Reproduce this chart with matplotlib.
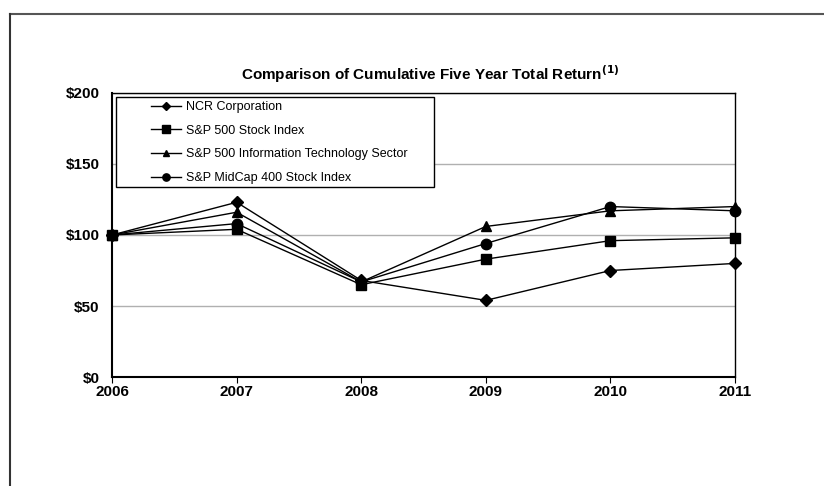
import matplotlib.pyplot as plt
from matplotlib.patches import Rectangle

plt.rcParams['font.family'] = ['Liberation Sans', 'DejaVu Sans']

# Data (indexed to $100 in 2006)
years = [2006, 2007, 2008, 2009, 2010, 2011]
ncr = [100, 123, 68, 54, 75, 80]
sp500 = [100, 104, 65, 83, 96, 98]
sp500_it = [100, 116, 67, 106, 117, 120]
midcap400 = [100, 108, 67, 94, 120, 117]

series = [
    ("NCR Corporation", ncr, 'D', 6),
    ("S&P 500 Stock Index", sp500, 's', 7.5),
    ("S&P 500 Information Technology Sector", sp500_it, '^', 7),
    ("S&P MidCap 400 Stock Index", midcap400, 'o', 7.5),
]
y_ticks = [0, 50, 100, 150, 200]
y_labels = ["$0", "$50", "$100", "$150", "$200"]

fig = plt.figure(figsize=(8.24, 4.86), dpi=100)
ax = fig.add_axes([0.136, 0.224, 0.756, 0.585])

for name, vals, mk, ms in series:
    ax.plot(years, vals, color='black', linewidth=1, marker=mk, markersize=ms,
            label=name, clip_on=False, zorder=3)

ax.set_xlim(2006, 2011)
ax.set_ylim(0, 200)
ax.set_xticks(years)
ax.set_xticklabels([str(y) for y in years], fontsize=11, fontweight='bold')
ax.set_yticks(y_ticks)
ax.set_yticklabels(y_labels, fontsize=11, fontweight='bold')
ax.tick_params(axis='y', length=0, pad=9)
ax.tick_params(axis='x', length=4, direction='out', pad=2)
ax.grid(axis='y', color='#b0b0b0', linewidth=1)
for s in ax.spines.values():
    s.set_color('black')
    s.set_linewidth(1)
ax.spines['left'].set_linewidth(1.5)
ax.spines['bottom'].set_linewidth(1.5)

# legend frame drawn separately, entries placed inside it
ax.add_patch(Rectangle((0.0064, 0.669), 0.511, 0.317, transform=ax.transAxes,
                       facecolor='white', edgecolor='black', linewidth=1, zorder=4))
leg = ax.legend(loc='upper left', bbox_to_anchor=(0.058, 0.98), fontsize=9,
                frameon=False, handlelength=2.4, handletextpad=0.4,
                labelspacing=0.93, borderpad=0.2, borderaxespad=0, markerscale=0.7)
leg.set_zorder(5)

fig.text(0.522, 0.847, "Comparison of Cumulative Five Year Total Return$^{\\bf{(1)}}$",
         ha='center', va='center', fontsize=11, fontweight='bold')

# outer frame lines (top and left)
fig.add_artist(plt.Line2D([0.012, 1.0], [0.971, 0.971], color='#555555', linewidth=1.5,
                          transform=fig.transFigure))
fig.add_artist(plt.Line2D([0.012, 0.012], [0.0, 0.971], color='#333333', linewidth=1.5,
                          transform=fig.transFigure))

fig.savefig("out.png", dpi=100)
